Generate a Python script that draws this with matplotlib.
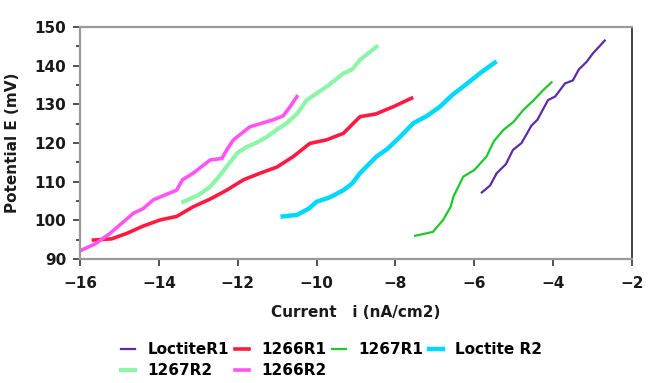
import matplotlib.pyplot as plt
import numpy as np

# Values
loctite_r1_i = [-5.81, -5.60, -5.43, -5.20, -5.02, -4.80, -4.55, -4.40, -4.13, -3.95, -3.70, -3.50, -3.35, -3.15, -2.99, -2.69]
loctite_r1_e = [107.2, 109.0, 112.2, 114.5, 118.2, 120.0, 124.5, 126.0, 131.1, 132.0, 135.4, 136.2, 139.0, 141.0, 143.2, 146.5]

r1266_1_i = [-15.66, -15.20, -14.82, -14.40, -13.97, -13.55, -13.13, -12.70, -12.28, -11.85, -11.43, -11.00, -10.59, -10.17, -9.75, -9.32, -8.90, -8.50, -8.05, -7.59]
r1266_1_e = [94.9, 95.2, 96.6, 98.5, 100.1, 101.0, 103.5, 105.5, 107.8, 110.5, 112.2, 113.8, 116.5, 119.9, 120.8, 122.5, 126.8, 127.5, 129.4, 131.6]

r1267_1_i = [-7.50, -7.05, -6.79, -6.60, -6.53, -6.28, -6.00, -5.69, -5.50, -5.26, -5.00, -4.76, -4.50, -4.25, -4.04]
r1267_1_e = [96.0, 97.0, 100.1, 103.5, 106.1, 111.3, 113.0, 116.5, 120.5, 123.4, 125.5, 128.5, 131.0, 133.7, 135.7]

loctite_r2_i = [-10.86, -10.50, -10.20, -10.00, -9.65, -9.32, -9.10, -8.90, -8.48, -8.20, -7.88, -7.55, -7.20, -6.87, -6.55, -6.28, -5.86, -5.48]
loctite_r2_e = [101.0, 101.4, 103.0, 104.8, 106.0, 107.8, 109.5, 112.2, 116.5, 118.5, 121.6, 125.1, 127.0, 129.4, 132.5, 134.6, 138.0, 140.8]

r1267_2_i = [-13.38, -13.00, -12.70, -12.50, -12.28, -12.00, -11.77, -11.50, -11.26, -11.00, -10.76, -10.50, -10.25, -9.74, -9.32, -9.10, -8.90, -8.48]
r1267_2_e = [104.8, 106.5, 108.7, 111.0, 113.9, 117.5, 119.0, 120.2, 121.6, 123.5, 125.1, 127.5, 131.1, 134.6, 138.0, 139.0, 141.5, 144.9]

r1266_2_i = [-15.96, -15.60, -15.24, -14.65, -14.40, -14.14, -13.55, -13.40, -13.13, -12.70, -12.40, -12.28, -12.11, -11.69, -11.10, -10.85, -10.67, -10.50]
r1266_2_e = [92.3, 94.0, 96.6, 101.8, 103.0, 105.3, 107.8, 110.5, 112.2, 115.6, 116.0, 118.2, 120.8, 124.2, 126.0, 127.0, 129.4, 132.0]

series = [
    ("LoctiteR1", loctite_r1_i, loctite_r1_e, "#5b2ca8", 1.6),
    ("1266R1", r1266_1_i, r1266_1_e, "#ff1a40", 2.6),
    ("1267R1", r1267_1_i, r1267_1_e, "#1ec82a", 1.6),
    ("Loctite R2", loctite_r2_i, loctite_r2_e, "#00d8ff", 3.2),
    ("1267R2", r1267_2_i, r1267_2_e, "#8cf5a8", 3.0),
    ("1266R2", r1266_2_i, r1266_2_e, "#ff55f5", 2.6),
]

fig = plt.figure(figsize=(6.49, 3.83), dpi=100)
ax = fig.add_axes([0.1233, 0.3238, 0.8505, 0.6057])

lines = []
for name, xs, ys, col, lw in series:
    (ln,) = ax.plot(xs, ys, color=col, lw=lw, label=name)
    lines.append(ln)

ax.set_xlim(-16, -2)
ax.set_ylim(90, 150)
ax.set_xticks(np.arange(-16, -1, 2))
ax.set_yticks(np.arange(90, 151, 10))
ax.set_yticks(np.arange(95, 150, 10), minor=True)

for s in ["left", "bottom", "top"]:
    ax.spines[s].set_color("#9a9a9a")
    ax.spines[s].set_linewidth(1.6)
ax.spines["right"].set_color("#222222")
ax.spines["right"].set_linewidth(1.2)

ax.tick_params(axis="both", which="major", labelsize=11, length=5, width=1.2,
               colors="#333333", labelcolor="#1a1a1a")
ax.tick_params(axis="x", which="major", pad=7)
ax.tick_params(axis="y", which="major", pad=5)
ax.tick_params(axis="y", which="minor", length=3, width=1.2, colors="#333333")
for lab in ax.get_xticklabels() + ax.get_yticklabels():
    lab.set_fontweight("bold")

ax.set_xlabel("Current   i (nA/cm2)", fontsize=11, fontweight="bold", color="#1a1a1a", labelpad=10)
ax.set_ylabel("Potential E (mV)", fontsize=11, fontweight="bold", color="#1a1a1a", labelpad=10)

# row-major order in a 4-column legend
order = [0, 4, 1, 5, 2, 3]
fig.legend(handles=[lines[k] for k in order], loc="upper left", bbox_to_anchor=(0.187, 0.107), ncol=4,
           frameon=False, prop={"weight": "bold", "size": 11},
           handlelength=0.9, handletextpad=0.8, columnspacing=0.4,
           labelspacing=0.4, borderpad=0, borderaxespad=0)

fig.savefig("out.png", dpi=100)
